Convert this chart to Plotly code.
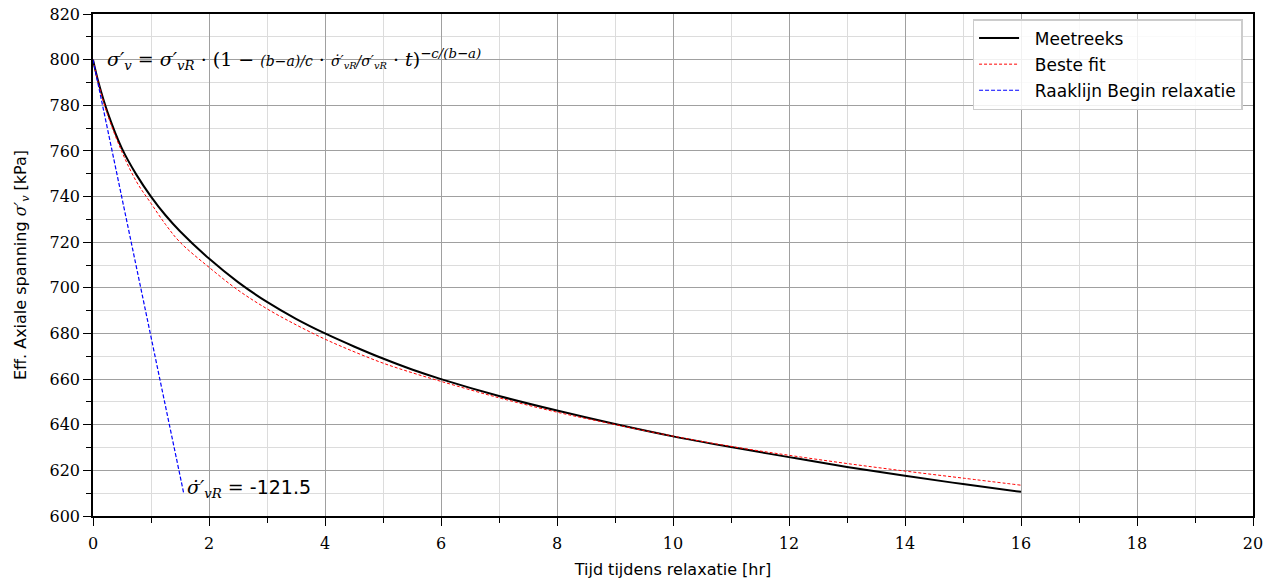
import plotly.graph_objects as go

# Measured series (Meetreeks)
t_meas = [0, 0.1, 0.25, 0.5, 0.75, 1, 1.25, 1.5, 2, 2.5, 3, 3.5, 4, 4.5, 5, 5.5, 6,
          7, 8, 9, 10, 11, 12, 13, 14, 15, 16]
v_meas = [800, 789.5, 777, 761, 749.5, 740, 731.8, 724.8, 712.8, 702.5, 693.8, 686.4,
          680, 674.3, 669, 664.2, 660, 652.6, 646.2, 640.3, 634.9, 630.2, 625.8, 621.5,
          617.6, 614, 610.6]

# Best fit (Beste fit)
t_fit = [0, 0.1, 0.25, 0.5, 0.75, 1, 1.25, 1.5, 2, 2.5, 3, 3.5, 4, 4.5, 5, 5.5, 6,
         7, 8, 9, 10, 11, 12, 13, 14, 15, 16]
v_fit = [800, 789, 776, 759.5, 746.5, 737, 727.8, 720, 709, 699, 690.8, 683.8, 677.5,
         672, 667, 662.8, 659, 651.8, 645.5, 640.1, 635, 630.5, 626.6, 623, 619.7,
         616.6, 613.5]

# Tangent line at start of relaxation (Raaklijn Begin relaxatie)
sigma_R = 800
rate_R = -121.5
v_tan_end = 610
t_tan = [0, (v_tan_end - sigma_R) / rate_R]
v_tan = [sigma_R, v_tan_end]

names = ["Meetreeks", "Beste fit", "Raaklijn Begin relaxatie"]

x_ticks = [0, 2, 4, 6, 8, 10, 12, 14, 16, 18, 20]
y_ticks = [600, 620, 640, 660, 680, 700, 720, 740, 760, 780, 800, 820]

SANS = "DejaVu Sans"
SERIF = "DejaVu Serif"
PAD = "&nbsp;&nbsp;"

fig = go.Figure()
fig.add_trace(go.Scatter(x=t_meas, y=v_meas, mode="lines", name=PAD + names[0], legendgroup="a",
                         line=dict(color="black", width=2, shape="spline")))
fig.add_trace(go.Scatter(x=t_fit, y=v_fit, mode="lines", name=PAD + names[1], legendgroup="b",
                         line=dict(color="red", width=1, dash="3px,2px", shape="spline")))
fig.add_trace(go.Scatter(x=t_tan, y=v_tan, mode="lines", name=PAD + names[2], legendgroup="c",
                         line=dict(color="blue", width=1.2, dash="4px,2px")))

axis_common = dict(
    showline=True, linecolor="black", linewidth=1.5, mirror=True,
    ticks="outside", ticklen=8, tickwidth=1.2, tickcolor="black",
    showgrid=True, gridcolor="#a0a0a0", gridwidth=1,
    zeroline=False,
    tickfont=dict(family=SERIF, size=16, color="black"),
)

fig.update_xaxes(range=[0, 20], tickvals=x_ticks, ticklabelstandoff=4,
                 minor=dict(dtick=1, tick0=0, ticks="outside", ticklen=5, tickcolor="black",
                            showgrid=True, gridcolor="#dcdcdc", gridwidth=1),
                 title=dict(text="Tijd tijdens relaxatie [hr]",
                            font=dict(family=SANS, size=16, color="black"), standoff=12),
                 **axis_common)
fig.update_yaxes(range=[600, 820], tickvals=y_ticks,
                 minor=dict(dtick=10, tick0=600, ticks="outside", ticklen=5, tickcolor="black",
                            showgrid=True, gridcolor="#dcdcdc", gridwidth=1),
                 title=dict(text="Eff. Axiale spanning <i style='font-family:DejaVu Serif'>σ′<sub>v</sub></i> [kPa]",
                            font=dict(family=SANS, size=16, color="black"), standoff=19),
                 **axis_common)

formula = ("<i>σ′<sub>v</sub></i> = <i>σ′<sub>vR</sub></i> · (1 − "
           "<span style='font-size:14px'><i>(b−a)/c</i></span> · "
           "<span style='font-size:14px'><i>σ̇′<sub>vR</sub>/σ′<sub>vR</sub></i></span>"
           " · <i>t</i>)"
           "<sup><i>−c/(b−a)</i></sup>")
fig.add_annotation(x=0.2, y=800, xref="x", yref="y", text=formula, showarrow=False,
                   xanchor="left", yanchor="middle",
                   font=dict(family=SERIF, size=19, color="black"))

fig.add_annotation(x=t_tan[1], y=612, xref="x", yref="y",
                   text=f"<i>σ̇′<sub>vR</sub></i> = <span style='font-family:DejaVu Sans'>{rate_R}</span>",
                   showarrow=False, xanchor="left", yanchor="middle", xshift=1,
                   font=dict(family=SERIF, size=19, color="black"))

fig.update_layout(
    width=1277, height=588,
    margin=dict(l=93, r=24, t=14, b=72, autoexpand=False),
    paper_bgcolor="white", plot_bgcolor="white",
    showlegend=True,
    legend=dict(x=0.991, y=0.99, xanchor="right", yanchor="top",
                bgcolor="rgba(255,255,255,0.85)", bordercolor="#cccccc", borderwidth=1.5,
                font=dict(family=SANS, size=17, color="black"),
                itemwidth=40, tracegroupgap=1),
)

fig.write_html("out.html")
